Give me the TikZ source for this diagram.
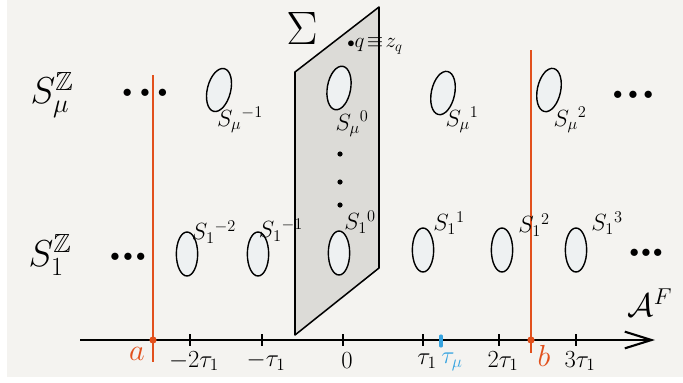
\documentclass[tikz,border=0pt]{standalone}
\usepackage{fix-cm}
\usepackage{amssymb}
\usetikzlibrary{
  arrows.meta,
  shapes.geometric,
  positioning
}
\definecolor{paper}{HTML}{F4F3F0}
\definecolor{cutred}{HTML}{E2501C}
\definecolor{taublue}{HTML}{35A3E0}
\definecolor{planegray}{HTML}{DCDBD7}
\definecolor{orbfill}{HTML}{EEF1F2}
\newcommand{\threedots}[1]{$\bullet$\hspace{#1}$\bullet$\hspace{#1}$\bullet$}
\tikzset{
  orb/.style={ellipse, draw, line width=1.2pt, fill=orbfill,
    minimum width=7mm, minimum height=13.2mm, inner sep=0pt},
  lbl/.style={inner sep=0pt, font=\fontsize{20}{20}\selectfont},
  biglbl/.style={inner sep=0pt, font=\fontsize{32}{32}\selectfont},
  ticklbl/.style={inner sep=0pt, font=\fontsize{21}{21}\selectfont},
  dots/.style={inner sep=0pt, font=\fontsize{16}{16}\selectfont},
  cut/.style={cutred, line width=1.6pt}
}

\begin{document}
\begin{tikzpicture}[x=0.3mm, y=-0.3mm]
  % paper
  \fill[white] (0,0) rectangle (683,382);
  \fill[paper] (7,0) rectangle (683,377);
  \useasboundingbox (0,0) rectangle (683,382);

  % plane Sigma
  \coordinate (PL1) at (295,72);
  \coordinate (PL2) at (379,7);
  \coordinate (PL3) at (379,268);
  \coordinate (PL4) at (295,335);
  \draw[fill=planegray, line width=1.3pt, line join=round]
  (PL1) -- (PL2) -- (PL3) -- (PL4) -- cycle;
  \draw[line width=2.4pt] (PL1) -- (PL4);
  \node (sigma) at (302,28) {\fontsize{40}{40}\selectfont$\Sigma$};
  \node[inner sep=0pt] (q) at (375,46) {\fontsize{18}{18}\selectfont$\scriptstyle\bullet\displaystyle q\!\equiv\! z_q$};
  \foreach \y in {154,182,205}
  \fill (340,\y) circle (2.6);

  % axis
  \coordinate (ax0) at (80,340);
  \coordinate (ax1) at (655,340);
  \draw[line width=1.8pt, -{Straight Barb[length=8mm,width=5mm]}] (ax0) -- (ax1);
  \node (AF) at (650,303) {\fontsize{28}{28}\selectfont$\mathcal{A}^F$};

  \foreach \x/\t in {190/{-2\tau_1}, 262/{-\tau_1}, 343/{0}, 423/{\tau_1}, 499/{2\tau_1}, 576/{3\tau_1}} {
    \draw[line width=1.6pt] (\x,334) -- (\x,346);
    \node[ticklbl] (t\x) at (\x+4,361) {$\t$};
  }
  \draw[taublue, line width=2.6pt, line cap=round] (441,336) -- (441,346);
  \node[ticklbl, text=taublue] (tmu) at (452,362) {$\tau_\mu$};

  % cuts a and b
  \coordinate (atop) at (153,75);
  \coordinate (abot) at (153,362);
  \coordinate (btop) at (531,50);
  \coordinate (bbot) at (531,353);
  \draw[cut] (atop) -- (abot);
  \draw[cut] (btop) -- (bbot);
  \fill[cutred] (153,340) circle (3.6);
  \fill[cutred] (531,340) circle (3.6);
  \node[inner sep=0pt, text=cutred] (la) at (137,354) {\fontsize{26}{26}\selectfont$a$};
  \node[inner sep=0pt, text=cutred] (lb) at (544,356) {\fontsize{26}{26}\selectfont$b$};

  % S_mu row
  \node[biglbl] (Smu) at (52,95) {$S_\mu^{\mathbb{Z}}$};
  \node[dots] (dmuL) at (145,93) {\threedots{7pt}};
  \node[dots] (dmuR) at (633,95) {\threedots{5pt}};
  \node[orb, rotate=-14] (SmuM1) at (219,90) {};
  \node[orb, rotate=-10] (Smu0) at (339,88) {};
  \node[orb, rotate=-12] (Smu1) at (443,93) {};
  \node[orb, rotate=-12] (Smu2) at (549,90) {};
  \node[lbl] (lSmuM1) at (240,120) {$S_\mu{}^{-1}$};
  \node[lbl] (lSmu0) at (352,124) {$S_\mu{}^{0}$};
  \node[lbl] (lSmu1) at (462,120) {$S_\mu{}^{1}$};
  \node[lbl] (lSmu2) at (570,120) {$S_\mu{}^{2}$};

  % S_1 row
  \node[biglbl] (S1) at (50,255) {$S_1^{\mathbb{Z}}$};
  \node[dots] (d1L) at (128,257) {\threedots{3pt}};
  \node[dots] (d1R) at (646,253) {\threedots{2pt}};
  \node[orb, minimum width=6.4mm] (S1M2) at (187,254) {};
  \node[orb, minimum width=6.4mm] (S1M1) at (258,254) {};
  \node[orb, minimum width=6.4mm] (S10) at (339,253) {};
  \node[orb, minimum width=6.4mm] (S11) at (423,250) {};
  \node[orb, minimum width=6.4mm] (S12) at (502,250) {};
  \node[orb, minimum width=6.4mm] (S13) at (576,250) {};
  \node[lbl] (lS1M2) at (214,232) {$S_1{}^{-2}$};
  \node[lbl] (lS1M1) at (281,230) {$S_1{}^{-1}$};
  \node[lbl] (lS10) at (360,222) {$S_1{}^{0}$};
  \node[lbl] (lS11) at (449,223) {$S_1{}^{1}$};
  \node[lbl] (lS12) at (534,225) {$S_1{}^{2}$};
  \node[lbl] (lS13) at (607,223) {$S_1{}^{3}$};
\end{tikzpicture}
\end{document}
